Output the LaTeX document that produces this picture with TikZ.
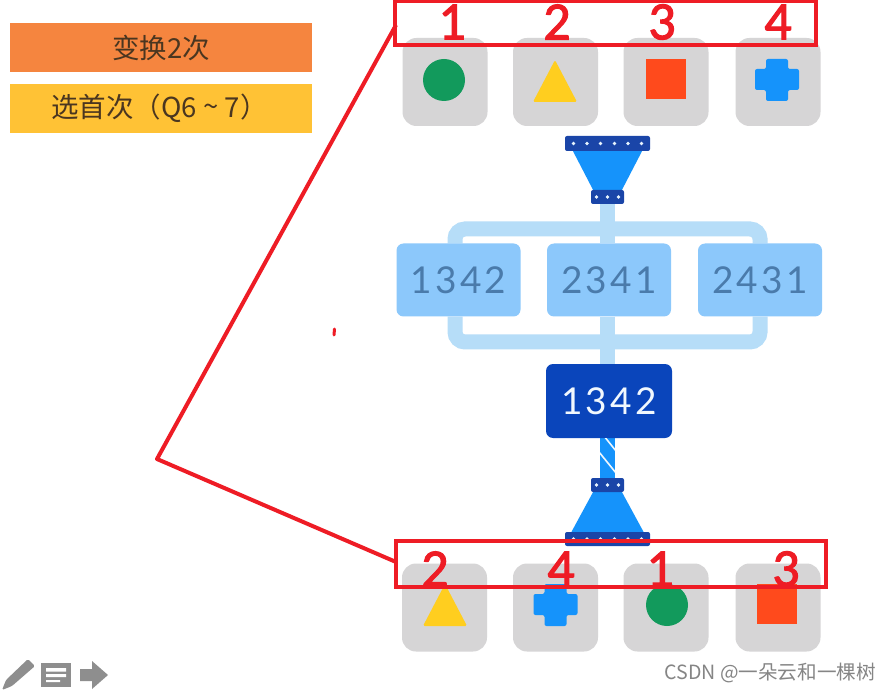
\documentclass[tikz,border=0pt]{standalone}
\usepackage{fontspec}
\setmainfont{Liberation Sans}
\newfontfamily\cjk{Noto Sans CJK SC}
\newfontfamily\redf[FakeBold=2]{Carlito}
\newfontfamily\numf{Lato}
\usetikzlibrary{calc}
\pgfdeclarelayer{back}
\pgfsetlayers{back,main}
\definecolor{tilec}{HTML}{D6D5D6}
\definecolor{greenc}{HTML}{129A5C}
\definecolor{yellowc}{HTML}{FFCE1F}
\definecolor{redsq}{HTML}{FF4A1C}
\definecolor{bluec}{HTML}{1593FB}
\definecolor{darkb}{HTML}{0A45BB}
\definecolor{barc}{HTML}{1A45A8}
\definecolor{pipec}{HTML}{B6DDF8}
\definecolor{boxc}{HTML}{8CC8FB}
\definecolor{boxt}{HTML}{4A7BAB}
\definecolor{redl}{HTML}{EE1C25}
\definecolor{orangec}{HTML}{F5853F}
\definecolor{amberc}{HTML}{FFC235}
\definecolor{labt}{HTML}{4A3620}
\definecolor{iconc}{HTML}{8E8E8E}
\newcommand{\dg}[4]{\raisebox{-1pt}{#1\kern3.2pt#2\kern3.2pt#3\kern3.2pt#4}}
\tikzset{
  x=1pt,y=-1pt,
  tile/.style={fill=tilec,rounded corners=14pt,minimum width=85pt,minimum height=88pt,inner sep=0pt},
  numbox/.style={rounded corners=7pt,minimum width=124pt,minimum height=73pt,inner sep=0pt,font=\numf\fontsize{37}{37}\selectfont},
  lightbox/.style={numbox,fill=boxc,text=boxt},
  darkbox/.style={numbox,fill=darkb,text=white!88!boxc,minimum width=126pt,minimum height=74pt},
  pipe/.style={draw=pipec,line width=15pt,rounded corners=10pt},
  bar/.style={fill=barc,rounded corners=2pt,inner sep=0pt},
  banner/.style={minimum width=302pt,minimum height=49pt,inner sep=0pt,text=labt,font=\cjk\fontsize{27.5}{27.5}\selectfont},
  redbox/.style={draw=redl,line width=4pt},
  rednum/.style={text=redl,inner sep=0pt,font=\redf\fontsize{54}{54}\selectfont},
  dot/.style={circle,fill=white!80!boxc,minimum size=3.6pt,inner sep=0pt},
}
\newcommand{\shCircle}[1]{\fill[greenc] (#1) circle[radius=21];}
\newcommand{\shTri}[1]{\fill[yellowc,rounded corners=1.5pt] ($(#1)+(0,-21)$) -- ($(#1)+(22,21)$) -- ($(#1)+(-22,21)$) -- cycle;}
\newcommand{\shSq}[1]{\fill[redsq] ($(#1)+(-20,-20)$) rectangle ($(#1)+(20,20)$);}
\newcommand{\shPlus}[1]{\fill[bluec,rounded corners=2pt] ($(#1)+(-11,-21)$) -- ($(#1)+(11,-21)$) -- ($(#1)+(11,-11)$) -- ($(#1)+(22,-11)$) -- ($(#1)+(22,10)$) -- ($(#1)+(11,10)$) -- ($(#1)+(11,21)$) -- ($(#1)+(-11,21)$) -- ($(#1)+(-11,10)$) -- ($(#1)+(-22,10)$) -- ($(#1)+(-22,-11)$) -- ($(#1)+(-11,-11)$) -- cycle;}
\begin{document}
\begin{tikzpicture}
\useasboundingbox (0,0) rectangle (891,692);
% banners
\node[banner,fill=orangec] (b2x) at (161,47.5) {\raisebox{-1.5pt}{变换2次}};
\node[banner,fill=amberc] (first) at (161,108.5) {\hspace*{-3pt}\raisebox{-1.5pt}{选首次（Q6 \raisebox{1pt}{\textasciitilde} 7）}};
% top tiles
\node[tile] (t1) at (445,82) {};
\node[tile] (t2) at (555.5,82) {};
\node[tile] (t3) at (666,82) {};
\node[tile] (t4) at (778,82) {};
\shCircle{444,80}
\shTri{555,81}
\shSq{665.5,79.5}
\shPlus{777,80}
% number boxes
\node[lightbox] (n1) at (458.5,280) {\dg1342};
\node[lightbox] (n2) at (609,280) {\dg2341};
\node[lightbox] (n3) at (760,280) {\dg2431};
\node[darkbox] (res) at (609,401) {\dg1342};
% funnels
\node[bar,minimum width=33pt,minimum height=14pt] (fs) at (607.5,197) {};
\node[bar,minimum width=85pt,minimum height=15pt] (ft) at (607.5,143.5) {};
\node[bar,minimum width=33pt,minimum height=14pt] (gs) at (607.5,485) {};
\node[bar,minimum width=85pt,minimum height=14pt] (gb) at (607.5,539) {};
\foreach \dx in {-34,-20.5,-7,7,20.5,34} {
  \node[dot] at ($(ft.center)+(\dx,0)$) {};
  \node[dot] at ($(gb.center)+(\dx,0)$) {};
}
\foreach \dx in {-11,0,11} {
  \node[dot] at ($(fs.center)+(\dx,0)$) {};
  \node[dot] at ($(gs.center)+(\dx,0)$) {};
}
\begin{pgfonlayer}{back}
\fill[white] (0,0) rectangle (891,692);
\fill[bluec] ($(ft.south)+(-34.5,0)$) -- ($(ft.south)+(34.5,0)$) -- ($(fs.north)+(14.5,0)$) -- ($(fs.north)+(-14.5,0)$) -- cycle;
\fill[bluec] ($(gs.south)+(-14.5,0)$) -- ($(gs.south)+(14.5,0)$) -- ($(gb.north)+(36,0)$) -- ($(gb.north)+(-36,0)$) -- cycle;
% pipes
\draw[pipe] (fs.south) -- (fs.south |- n2.north);
\draw[pipe] ($(n1.north)+(-3.5,0)$) |- (607.5,229) -| (n3.north);
\draw[pipe] (fs.south |- n2.south) -- (fs.south |- res.north);
\draw[pipe] ($(n1.south)+(-3.5,0)$) |- (607.5,342) -| (n3.south);
% striped stem
\draw[bluec,line width=15pt] (gs.north) -- (gs.north |- res.south);
\end{pgfonlayer}
\begin{scope}
\clip (600,438) rectangle (615,478);
\draw[white!85!boxc,line width=1.6pt] (604,436) -- (616,451);
\draw[white!85!boxc,line width=1.6pt] (599,452) -- (616,473);
\end{scope}
% bottom tiles
\node[tile] (u1) at (444.5,607.5) {};
\node[tile] (u2) at (555.5,607.5) {};
\node[tile] (u3) at (666,607.5) {};
\node[tile] (u4) at (778,607.5) {};
\shTri{445,605}
\shPlus{555.5,605}
\shCircle{667,605}
\shSq{777,603.5}
% red frames and numbers
\coordinate (ra) at (396,25);
\coordinate (rv) at (157,459);
\coordinate (rb) at (396,562);
\draw[redbox,line join=round] (ra) -- (rv) -- (rb);
\draw[redl,line width=3pt,line cap=round] (334.5,329) -- (334,335);
\node[draw=redl,line width=4pt,minimum width=421pt,minimum height=44pt,inner sep=0pt] (top) at (605.5,23) {};
\node[draw=redl,line width=4pt,minimum width=430pt,minimum height=46pt,inner sep=0pt] (bot) at (611,563.5) {};
\node[rednum] (a1) at (452,22) {1};
\node[rednum] (a2) at (557,22) {2};
\node[rednum] (a3) at (662,22) {3};
\node[rednum] (a4) at (778,22) {4};
\node[rednum] (c1) at (435,569) {2};
\node[rednum] (c2) at (561,569) {4};
\node[rednum] (c3) at (660,569) {1};
\node[rednum] (c4) at (786,569) {3};
% toolbar icons
\fill[iconc,rounded corners=1.5pt] (28,659) -- (35,666) -- (12,686) -- (2,690) -- (6,680) -- cycle;
\fill[iconc] (41,663) rectangle (71,687);
\fill[white] (46,668) rectangle (66,671.5) (46,674) rectangle (66,677) (46,680) rectangle (60,682);
\fill[iconc] (80,669) -- (92,669) -- (92,661) -- (108,675) -- (92,689) -- (92,681) -- (80,681) -- cycle;
% watermark
\node[anchor=east,inner sep=0pt,text=black!48,font=\cjk\fontsize{19.6}{19.6}\selectfont] (wm) at (876,673) {CSDN @一朵云和一棵树};
\end{tikzpicture}
\end{document}
